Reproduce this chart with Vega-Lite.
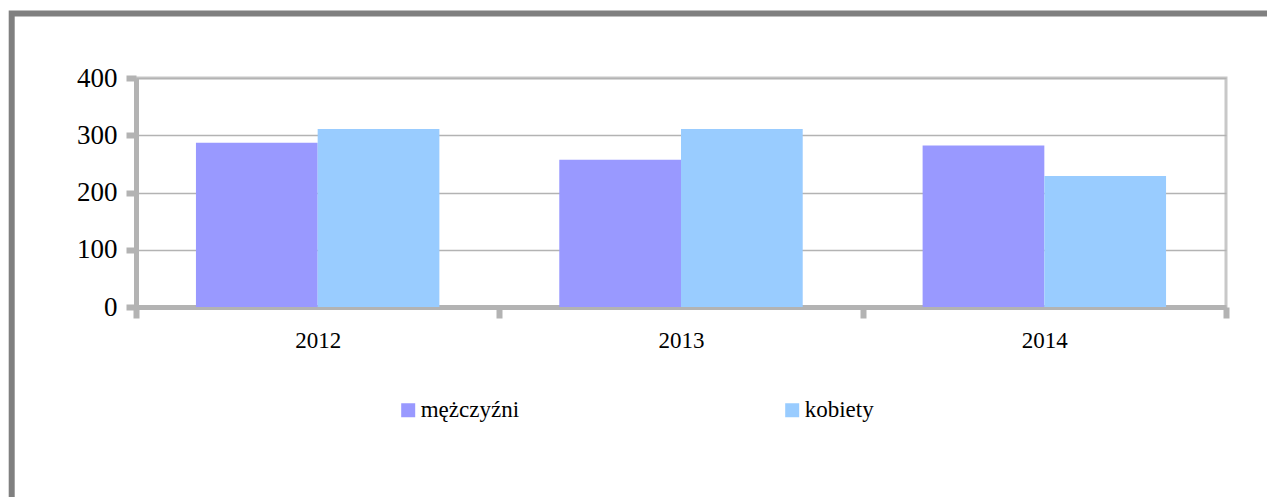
{
  "$schema": "https://vega.github.io/schema/vega-lite/v6.json",
  "width": 1090,
  "height": 229,
  "autosize": {"type": "none"},
  "padding": {"left": 136, "top": 78, "right": 41, "bottom": 190},
  "background": "white",
  "data": {
    "values": [
      {"rok": "2012", "plec": "mężczyźni", "wartosc": 287},
      {"rok": "2012", "plec": "kobiety", "wartosc": 311},
      {"rok": "2013", "plec": "mężczyźni", "wartosc": 257},
      {"rok": "2013", "plec": "kobiety", "wartosc": 311},
      {"rok": "2014", "plec": "mężczyźni", "wartosc": 282},
      {"rok": "2014", "plec": "kobiety", "wartosc": 229}
    ]
  },
  "mark": {"type": "bar"},
  "encoding": {
    "x": {
      "field": "rok",
      "type": "nominal",
      "scale": {"paddingInner": 0.33, "paddingOuter": 0.165},
      "axis": {
        "title": null,
        "bandPosition": 1.49254,
        "tickExtra": true,
        "tickOffset": -59.95,
        "labelOffset": 59.95,
        "labelAngle": 0,
        "labelFontSize": 23,
        "labelColor": "black",
        "labelPadding": 11.5,
        "tickSize": 11,
        "tickWidth": 6,
        "tickColor": "#b3b3b3",
        "domainColor": "#b3b3b3",
        "domainWidth": 5,
        "grid": false
      }
    },
    "xOffset": {
      "field": "plec",
      "type": "nominal",
      "sort": ["mężczyźni", "kobiety"],
      "scale": {"paddingInner": 0, "paddingOuter": 0}
    },
    "y": {
      "field": "wartosc",
      "type": "quantitative",
      "scale": {"domain": [0, 400]},
      "axis": {
        "title": null,
        "values": [0, 100, 200, 300, 400],
        "labelFontSize": 27,
        "labelColor": "black",
        "labelPadding": 9,
        "tickSize": 10,
        "tickWidth": 6,
        "tickColor": "#b3b3b3",
        "domainColor": "#b3b3b3",
        "domainWidth": 5,
        "grid": true,
        "gridColor": "#b3b3b3",
        "gridWidth": 1.5
      }
    },
    "color": {
      "field": "plec",
      "type": "nominal",
      "sort": ["mężczyźni", "kobiety"],
      "scale": {"domain": ["mężczyźni", "kobiety"], "range": ["#9999ff", "#99ccff"]},
      "legend": {
        "orient": "none",
        "legendX": -124.3,
        "legendY": -64.5,
        "direction": "horizontal",
        "title": " ",
        "titleOrient": "right",
        "titlePadding": 30,
        "titleFontSize": 23,
        "padding": 385,
        "symbolType": "square",
        "symbolSize": 196,
        "symbolStrokeWidth": 0,
        "labelFontSize": 23,
        "labelColor": "black",
        "labelOffset": 1,
        "labelLimit": 400,
        "columnPadding": 261,
        "strokeColor": "#808080"
      }
    }
  },
  "config": {
    "font": "Liberation Serif, Times New Roman, serif",
    "axis": {"labelFont": "Liberation Serif, Times New Roman, serif"},
    "legend": {"strokeWidth": 6, "labelFont": "Liberation Serif, Times New Roman, serif"},
    "view": {"stroke": "#c8c8c8", "strokeWidth": 3}
  }
}
